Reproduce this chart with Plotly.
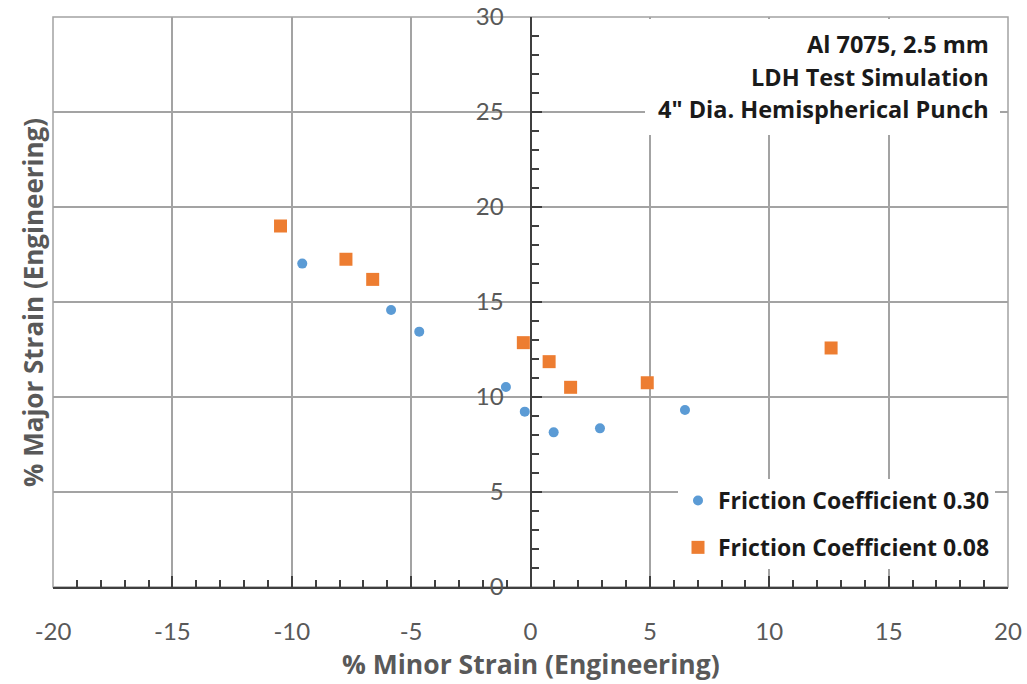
import plotly.graph_objects as go

# Forming-limit style scatter: LDH test simulation, Al 7075 2.5 mm
minor_030 = [-9.56, -5.84, -4.66, -1.03, -0.24, 0.97, 2.91, 6.47]
major_030 = [17.02, 14.58, 13.44, 10.53, 9.23, 8.14, 8.35, 9.32]

minor_008 = [-10.47, -7.73, -6.61, -0.30, 0.78, 1.68, 4.89, 12.59]
major_008 = [19.00, 17.25, 16.19, 12.86, 11.86, 10.51, 10.75, 12.58]

series_names = ["Friction Coefficient 0.30", "Friction Coefficient 0.08"]
x_ticks = [-20, -15, -10, -5, 0, 5, 10, 15, 20]
y_ticks = [0, 5, 10, 15, 20, 25, 30]
info_lines = ["Al 7075, 2.5 mm", "LDH Test Simulation", "4\" Dia. Hemispherical Punch"]

GRID = "#a3a3a3"
AXIS = "#3f3f3f"
LABEL = "#595959"
TICK_FONT = "Lato"
TEXT_FONT = "Open Sans"

W, H = 1027, 684
L, R, T, B = 53, 19, 17, 97
plot_w = W - L - R
plot_h = H - T - B


def px_to_paper(px):
    return (px - L) / plot_w


def py_to_paper(py):
    return (H - B - py) / plot_h


fig = go.Figure()
fig.add_trace(go.Scatter(
    x=minor_030, y=major_030, mode="markers", name=series_names[0],
    legendgroup="a",
    marker=dict(symbol="circle", size=10, color="#5b9bd5"),
))
fig.add_trace(go.Scatter(
    x=minor_008, y=major_008, mode="markers", name=series_names[1],
    legendgroup="b",
    marker=dict(symbol="square", size=13, color="#ed7d31"),
))

# white panel behind the info text
fig.add_shape(type="rect", xref="paper", yref="paper",
              x0=px_to_paper(645), x1=px_to_paper(1000),
              y0=py_to_paper(135), y1=py_to_paper(19),
              fillcolor="white", line=dict(width=0), layer="above")

for line, py in zip(info_lines, [44, 77, 109]):
    fig.add_annotation(text=line, xref="paper", yref="paper",
                       x=px_to_paper(991), y=py_to_paper(py),
                       xanchor="right", yanchor="middle", showarrow=False,
                       font=dict(family=TEXT_FONT, size=23.5, color="#1a1a1a", weight="bold"))

# axis titles
fig.add_annotation(text="% Minor Strain (Engineering)", xref="paper", yref="paper",
                   x=px_to_paper(531), y=py_to_paper(664),
                   xanchor="center", yanchor="middle", showarrow=False,
                   font=dict(family=TEXT_FONT, size=26.5, color=LABEL, weight="bold"))
fig.add_annotation(text="% Major Strain (Engineering)", xref="paper", yref="paper",
                   x=px_to_paper(33), y=py_to_paper(303),
                   xanchor="center", yanchor="middle", showarrow=False, textangle=-90,
                   font=dict(family=TEXT_FONT, size=26, color=LABEL, weight="bold"))

fig.update_layout(
    width=W, height=H,
    margin=dict(l=L, r=R, t=T, b=B, pad=0, autoexpand=False),
    paper_bgcolor="white", plot_bgcolor="white",
    showlegend=True,
    legend=dict(
        x=px_to_paper(995), y=py_to_paper(569),
        xanchor="right", yanchor="bottom",
        bgcolor="white", borderwidth=0,
        tracegroupgap=14,
        font=dict(family=TEXT_FONT, size=23, color="#1a1a1a", weight="bold"),
    ),
    xaxis=dict(
        range=[-20, 20], tickvals=x_ticks, ticktext=[str(v) for v in x_ticks],
        automargin=False,
        showgrid=True, gridcolor=GRID, gridwidth=1.5, zeroline=False,
        showline=True, linecolor=AXIS, linewidth=2,
        ticks="inside", ticklen=11, tickwidth=1.5, tickcolor=AXIS,
        minor=dict(dtick=1, ticks="inside", ticklen=7, tickwidth=1.5,
                   tickcolor=AXIS, showgrid=False),
        tickfont=dict(family=TICK_FONT, size=24, color=LABEL),
        ticklabelstandoff=22,
        fixedrange=True,
    ),
    yaxis=dict(
        range=[0, 30], tickvals=y_ticks, ticktext=[str(v) for v in y_ticks],
        automargin=False,
        anchor="free", position=0.5, side="left",
        showgrid=True, gridcolor=GRID, gridwidth=1.5, zeroline=False,
        showline=True, linecolor=AXIS, linewidth=2,
        ticks="inside", ticklen=10, tickwidth=1.5, tickcolor=AXIS,
        minor=dict(dtick=1, ticks="inside", ticklen=7, tickwidth=1.5,
                   tickcolor=AXIS, showgrid=False),
        tickfont=dict(family=TICK_FONT, size=24, color=LABEL),
        ticklabelstandoff=21,
        fixedrange=True,
    ),
)

# plot frame
fig.add_shape(type="rect", xref="paper", yref="paper", x0=0, x1=1, y0=0, y1=1,
              line=dict(color=GRID, width=1.5), layer="below")

fig.write_html("out.html", config={"displayModeBar": False})
